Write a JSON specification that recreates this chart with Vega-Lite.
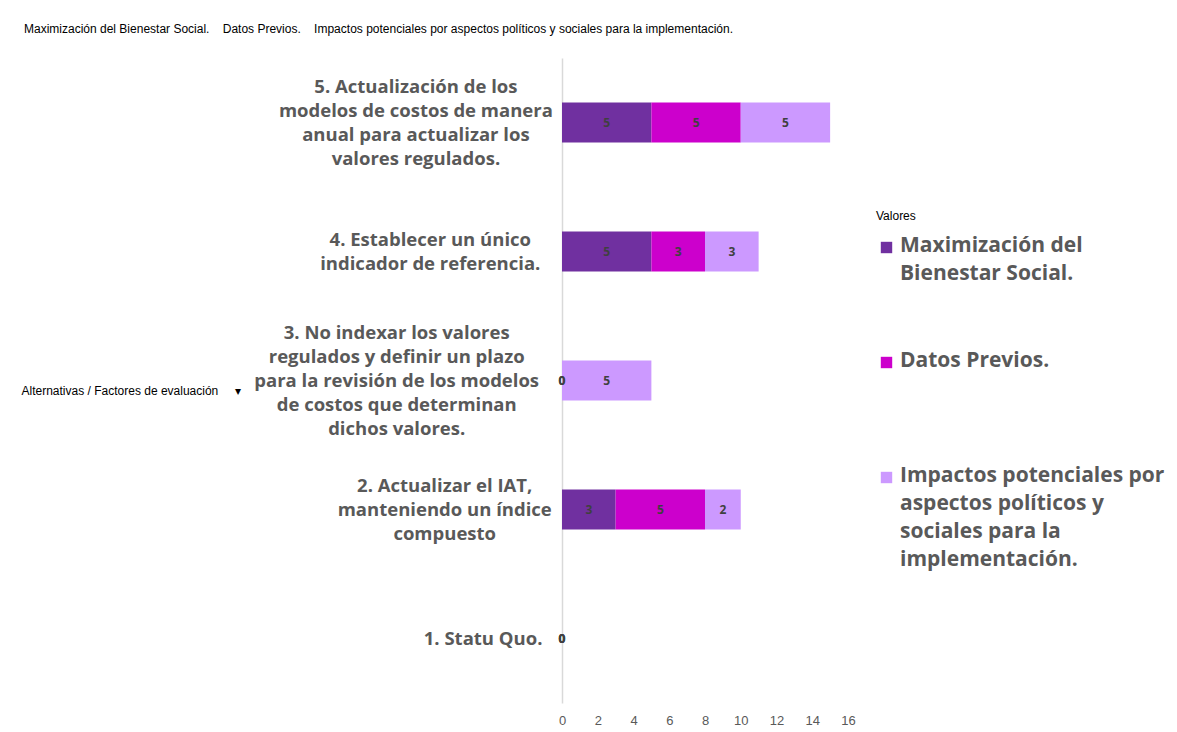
{
  "$schema": "https://vega.github.io/schema/vega-lite/v6.json",
  "width": 286,
  "height": 645,
  "autosize": "none",
  "padding": {"left": 562, "top": 58, "right": 329, "bottom": 29},
  "background": "white",
  "view": {"stroke": null},
  "title": {
    "text": "Maximización del Bienestar Social.\u00a0\u00a0\u00a0\u00a0Datos Previos.\u00a0\u00a0\u00a0\u00a0Impactos potenciales por aspectos políticos y sociales para la implementación.",
    "anchor": "start",
    "frame": "group",
    "dx": -538,
    "offset": 22,
    "font": "Liberation Sans",
    "fontSize": 12,
    "fontWeight": "normal",
    "color": "#000000"
  },
  "data": {
    "values": [
      {"alt": "5. Actualización de los|modelos de costos de manera|anual para actualizar los|valores regulados.", "factor": "Maximización del Bienestar Social.", "value": 5},
      {"alt": "5. Actualización de los|modelos de costos de manera|anual para actualizar los|valores regulados.", "factor": "Datos Previos.", "value": 5},
      {"alt": "5. Actualización de los|modelos de costos de manera|anual para actualizar los|valores regulados.", "factor": "Impactos potenciales por aspectos políticos y sociales para la implementación.", "value": 5},
      {"alt": "4. Establecer un único|indicador de referencia.", "factor": "Maximización del Bienestar Social.", "value": 5},
      {"alt": "4. Establecer un único|indicador de referencia.", "factor": "Datos Previos.", "value": 3},
      {"alt": "4. Establecer un único|indicador de referencia.", "factor": "Impactos potenciales por aspectos políticos y sociales para la implementación.", "value": 3},
      {"alt": "3. No indexar los valores|regulados y definir un plazo|para la revisión de los modelos|de costos que determinan|dichos valores.", "factor": "Maximización del Bienestar Social.", "value": 0},
      {"alt": "3. No indexar los valores|regulados y definir un plazo|para la revisión de los modelos|de costos que determinan|dichos valores.", "factor": "Datos Previos.", "value": 0},
      {"alt": "3. No indexar los valores|regulados y definir un plazo|para la revisión de los modelos|de costos que determinan|dichos valores.", "factor": "Impactos potenciales por aspectos políticos y sociales para la implementación.", "value": 5},
      {"alt": "2. Actualizar el IAT,|manteniendo un índice|compuesto", "factor": "Maximización del Bienestar Social.", "value": 3},
      {"alt": "2. Actualizar el IAT,|manteniendo un índice|compuesto", "factor": "Datos Previos.", "value": 5},
      {"alt": "2. Actualizar el IAT,|manteniendo un índice|compuesto", "factor": "Impactos potenciales por aspectos políticos y sociales para la implementación.", "value": 2},
      {"alt": "1. Statu Quo.", "factor": "Maximización del Bienestar Social.", "value": 0},
      {"alt": "1. Statu Quo.", "factor": "Datos Previos.", "value": 0},
      {"alt": "1. Statu Quo.", "factor": "Impactos potenciales por aspectos políticos y sociales para la implementación.", "value": 0}
    ]
  },
  "transform": [
    {"calculate": "indexof(['Maximización del Bienestar Social.', 'Datos Previos.', 'Impactos potenciales por aspectos políticos y sociales para la implementación.'], datum.factor)", "as": "ord"},
    {"stack": "value", "groupby": ["alt"], "sort": [{"field": "ord", "order": "ascending"}], "as": ["v0", "v1"]},
    {"calculate": "(datum.v0 + datum.v1) / 2", "as": "mid"}
  ],
  "encoding": {
    "y": {
      "field": "alt",
      "type": "nominal",
      "sort": [
        "5. Actualización de los|modelos de costos de manera|anual para actualizar los|valores regulados.",
        "4. Establecer un único|indicador de referencia.",
        "3. No indexar los valores|regulados y definir un plazo|para la revisión de los modelos|de costos que determinan|dichos valores.",
        "2. Actualizar el IAT,|manteniendo un índice|compuesto",
        "1. Statu Quo."
      ],
      "scale": {"paddingInner": 0.69, "paddingOuter": 0.345},
      "axis": {
        "title": "Alternativas / Factores de evaluación\u00a0\u00a0\u00a0\u00a0\u00a0▾",
        "titleAngle": 0,
        "titleX": -541,
        "titleY": 332,
        "titleAlign": "left",
        "titleBaseline": "middle",
        "titleFont": "Liberation Sans",
        "titleFontSize": 12,
        "titleFontWeight": "normal",
        "titleColor": "#000000",
        "labelExpr": "split(datum.label, '|')",
        "labelFont": "Open Sans",
        "labelFontSize": 18.5,
        "labelFontWeight": "bold",
        "labelColor": "#595959",
        "labelLineHeight": 24,
        "labelAlign": "center",
        "labelPadding": {"expr": "17 + 4.8 * max(length(split(datum.value, '|')[0] || ''), length(split(datum.value, '|')[1] || ''), length(split(datum.value, '|')[2] || ''), length(split(datum.value, '|')[3] || ''), length(split(datum.value, '|')[4] || ''))"},
        "labelOffset": {"expr": "-(length(split(datum.value, '|')) - 1) * 12"},
        "labelLimit": 400,
        "labelBaseline": "middle",
        "ticks": false,
        "domainColor": "#D9D9D9",
        "domainWidth": 1.5,
        "grid": false
      }
    },
    "x": {
      "field": "v0",
      "type": "quantitative",
      "scale": {"domain": [0, 16], "nice": false},
      "axis": {
        "title": null,
        "values": [0, 2, 4, 6, 8, 10, 12, 14, 16],
        "domain": false,
        "ticks": false,
        "grid": false,
        "labelOverlap": false,
        "labelFlush": false,
        "labelFont": "Liberation Sans",
        "labelFontSize": 13,
        "labelColor": "#595959",
        "labelPadding": 11
      }
    }
  },
  "layer": [
    {
      "mark": {"type": "bar"},
      "encoding": {
        "x2": {"field": "v1"},
        "color": {
          "field": "factor",
          "type": "nominal",
          "scale": {
            "domain": ["Maximización del Bienestar Social.", "Datos Previos.", "Impactos potenciales por aspectos políticos y sociales para la implementación."],
            "range": ["#7030A0", "#CC00CC", "#CC99FF"]
          },
          "legend": {
            "title": "Valores",
            "orient": "none",
            "legendX": 314,
            "legendY": 153,
            "padding": 0,
            "titleFont": "Liberation Sans",
            "titleFontSize": 12,
            "titleFontWeight": "normal",
            "titleColor": "#000000",
            "titlePadding": 14,
            "symbolType": "square",
            "symbolSize": 130,
            "symbolStrokeWidth": 0,
            "symbolOpacity": 1,
            "labelExpr": "datum.label == 'Maximización del Bienestar Social.' ? ['Maximización del', 'Bienestar Social.'] : datum.label == 'Datos Previos.' ? 'Datos Previos.' : ['Impactos potenciales por', 'aspectos políticos y', 'sociales para la', 'implementación.']",
            "labelFont": "Open Sans",
            "labelFontSize": 21,
            "labelFontWeight": "bold",
            "labelColor": "#595959",
            "labelLimit": 400,
            "labelOffset": 3,
            "labelBaseline": "top",
            "gridAlign": "all",
            "rowPadding": 9,
            "encode": {
              "labels": {
                "update": {
                  "lineHeight": {"value": 28},
                  "dy": {"value": -13}
                }
              }
            }
          }
        }
      }
    },
    {
      "mark": {"type": "text", "font": "Open Sans", "fontSize": 12, "fontWeight": "bold", "color": "#404040"},
      "encoding": {
        "x": {"field": "mid", "type": "quantitative"},
        "text": {"field": "value", "type": "quantitative"}
      }
    }
  ]
}
